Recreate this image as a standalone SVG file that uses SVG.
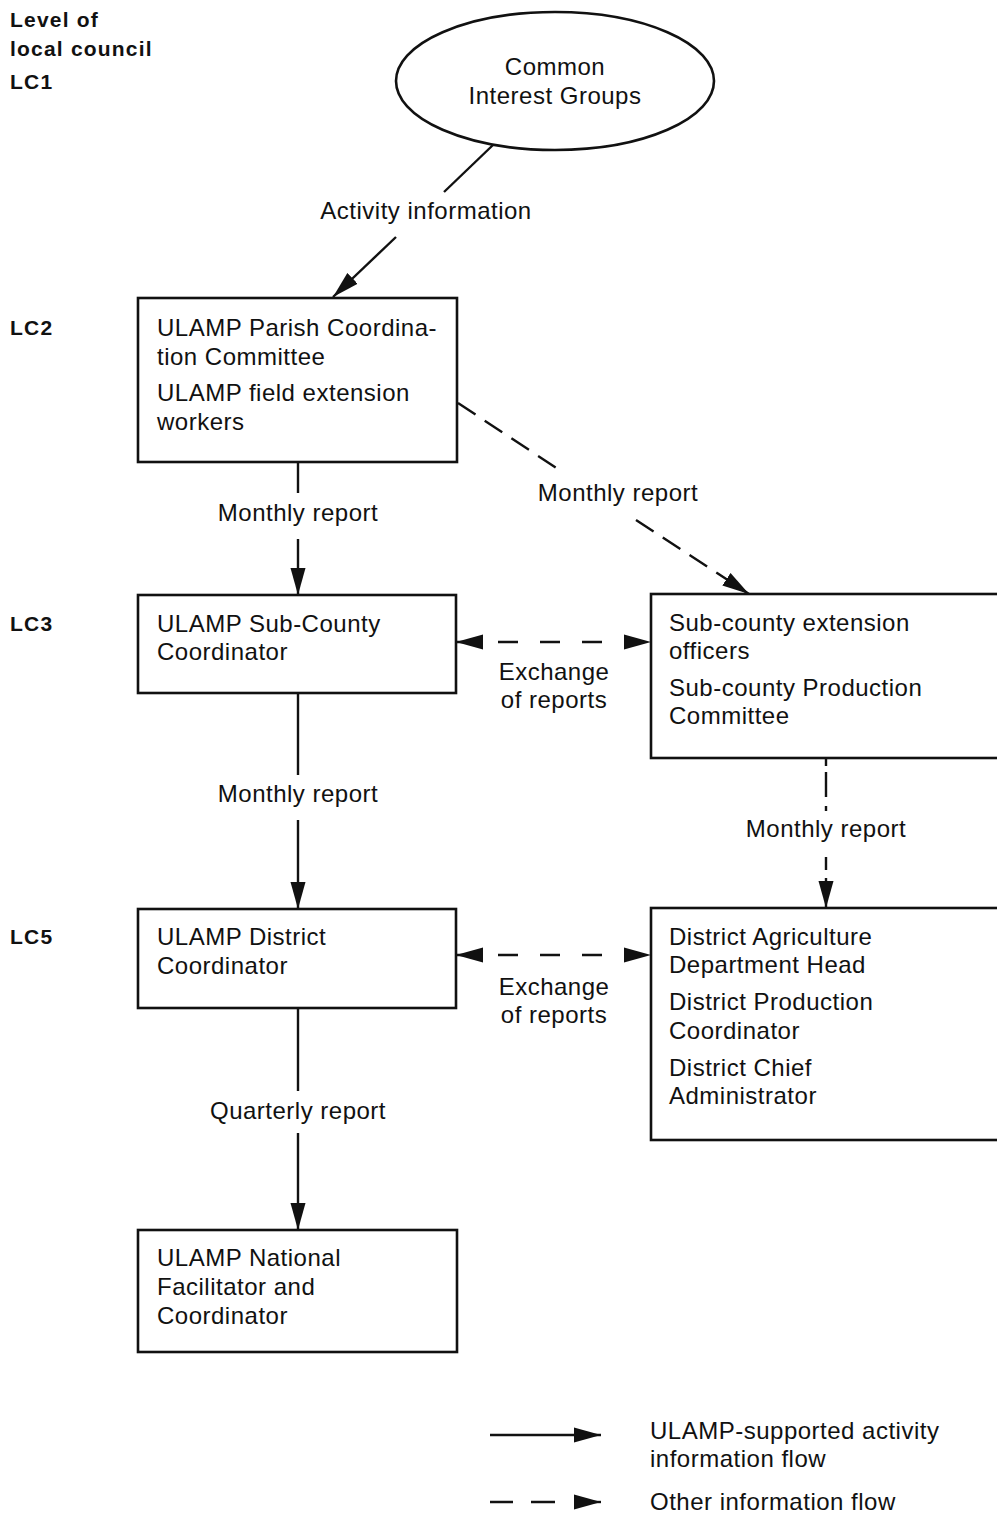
<svg xmlns="http://www.w3.org/2000/svg" width="997" height="1513" viewBox="0 0 997 1513">
<style>
text{font-family:"Liberation Sans",Arial,sans-serif;font-size:24px;fill:#111;letter-spacing:0.5px}
.lvl{font-weight:bold;font-size:21px;letter-spacing:1.2px}
.mid{text-anchor:middle}
.box{fill:#fff;stroke:#111;stroke-width:2.6}
.ln{fill:none;stroke:#111;stroke-width:2.4}
.dash{stroke-dasharray:21 11}
</style>
<defs>
<marker id="ah" markerUnits="userSpaceOnUse" markerWidth="28" markerHeight="16" refX="27" refY="8" orient="auto-start-reverse" viewBox="0 0 28 16">
<path d="M0,0.5 L27,8 L0,15.5 z" fill="#111"/>
</marker>
</defs>
<rect width="997" height="1513" fill="#fff"/>

<g id="levels">
<text class="lvl" x="10" y="27">Level of</text>
<text class="lvl" x="10" y="56">local council</text>
<text class="lvl" x="10" y="89">LC1</text>
<text class="lvl" x="10" y="335">LC2</text>
<text class="lvl" x="10" y="631">LC3</text>
<text class="lvl" x="10" y="944">LC5</text>
</g>

<g id="connectors">
<path class="ln" d="M493,145 L444,192"/>
<path class="ln" d="M396,237 L333,297" marker-end="url(#ah)"/>
<text class="mid" x="426" y="219">Activity information</text>

<path class="ln" d="M298,462 V493"/>
<path class="ln" d="M298,539 V595" marker-end="url(#ah)"/>
<text class="mid" x="298" y="521">Monthly report</text>

<path class="ln dash" d="M458,403 L561,471"/>
<path class="ln dash" d="M636,520 L749,594" marker-end="url(#ah)"/>
<text class="mid" x="618" y="501">Monthly report</text>

<path class="ln" style="stroke-dasharray:20 22" d="M456,642 H651" marker-start="url(#ah)" marker-end="url(#ah)"/>
<text class="mid" x="554" y="680">Exchange</text>
<text class="mid" x="554" y="708">of reports</text>

<path class="ln" d="M298,693 V775"/>
<path class="ln" d="M298,820 V909" marker-end="url(#ah)"/>
<text class="mid" x="298" y="802">Monthly report</text>

<path class="ln" d="M826,759 V766 M826,772 V797 M826,806 V811 M826,857 V870"/>
<path class="ln" d="M826,878 V908" marker-end="url(#ah)"/>
<text class="mid" x="826" y="837">Monthly report</text>

<path class="ln" style="stroke-dasharray:20 22" d="M456,955 H651" marker-start="url(#ah)" marker-end="url(#ah)"/>
<text class="mid" x="554" y="995">Exchange</text>
<text class="mid" x="554" y="1023">of reports</text>

<path class="ln" d="M298,1008 V1091"/>
<path class="ln" d="M298,1133 V1230" marker-end="url(#ah)"/>
<text class="mid" x="298" y="1119">Quarterly report</text>
</g>

<g id="cig">
<ellipse class="box" cx="555" cy="81" rx="159" ry="69"/>
<text class="mid" x="555" y="75">Common</text>
<text class="mid" x="555" y="104">Interest Groups</text>
</g>

<g id="parish">
<rect class="box" x="138" y="298" width="319" height="164"/>
<text x="157" y="336">ULAMP Parish Coordina-</text>
<text x="157" y="365">tion Committee</text>
<text x="157" y="401">ULAMP field extension</text>
<text x="157" y="430">workers</text>
</g>

<g id="subcounty">
<rect class="box" x="138" y="595" width="318" height="98"/>
<text x="157" y="632">ULAMP Sub-County</text>
<text x="157" y="660">Coordinator</text>
</g>

<g id="subcounty-ext">
<rect class="box" x="651" y="594" width="360" height="164"/>
<text x="669" y="631">Sub-county extension</text>
<text x="669" y="659">officers</text>
<text x="669" y="696">Sub-county Production</text>
<text x="669" y="724">Committee</text>
</g>

<g id="district">
<rect class="box" x="138" y="909" width="318" height="99"/>
<text x="157" y="945">ULAMP District</text>
<text x="157" y="974">Coordinator</text>
</g>

<g id="district-ag">
<rect class="box" x="651" y="908" width="360" height="232"/>
<text x="669" y="945">District Agriculture</text>
<text x="669" y="973">Department Head</text>
<text x="669" y="1010">District Production</text>
<text x="669" y="1039">Coordinator</text>
<text x="669" y="1076">District Chief</text>
<text x="669" y="1104">Administrator</text>
</g>

<g id="national">
<rect class="box" x="138" y="1230" width="319" height="122"/>
<text x="157" y="1266">ULAMP National</text>
<text x="157" y="1295">Facilitator and</text>
<text x="157" y="1324">Coordinator</text>
</g>

<g id="legend">
<path class="ln" d="M490,1435 H601" marker-end="url(#ah)"/>
<path class="ln" d="M490,1502 H513 M531,1502 H555"/>
<path class="ln" d="M574,1502 H601" marker-end="url(#ah)"/>
<text x="650" y="1439">ULAMP-supported activity</text>
<text x="650" y="1467">information flow</text>
<text x="650" y="1510">Other information flow</text>
</g>
</svg>
